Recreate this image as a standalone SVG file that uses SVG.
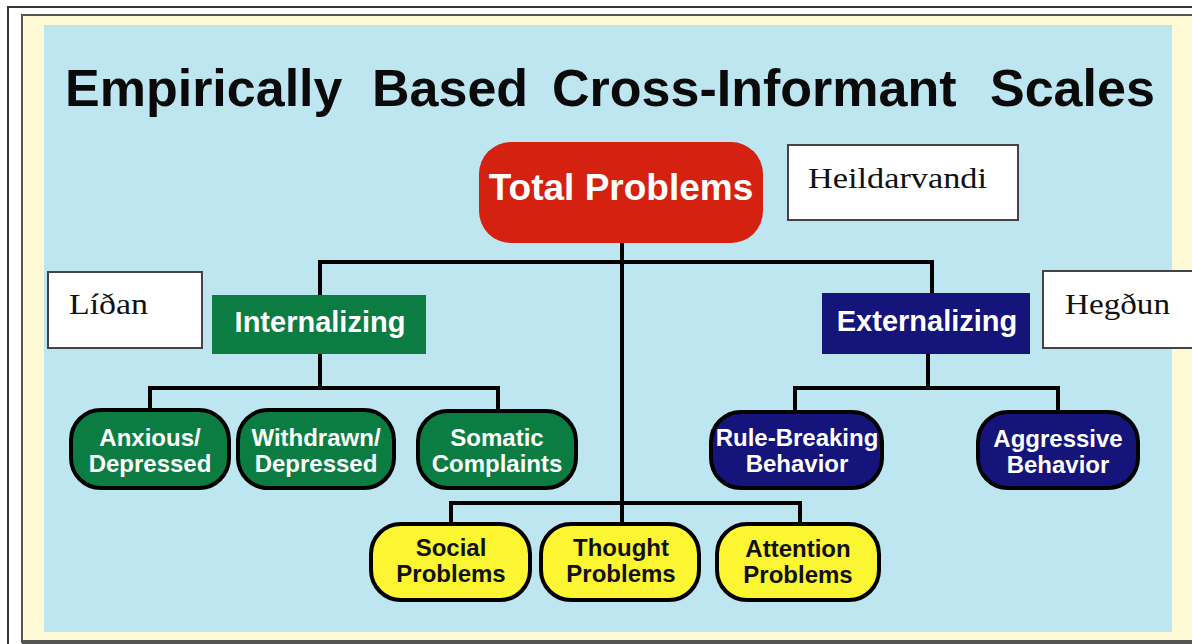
<svg xmlns="http://www.w3.org/2000/svg" width="1192" height="644" viewBox="0 0 1192 644">
  <style>
    .frame { fill: none; stroke: #333; stroke-width: 2; }
    .title { font-family: "Liberation Sans", Arial, sans-serif; font-weight: bold; font-size: 52px; fill: #0a0a0a; }
    .head { font-family: "Liberation Sans", Arial, sans-serif; font-weight: bold; fill: #ffffff; text-anchor: middle; }
    .pill { font-family: "Liberation Sans", Arial, sans-serif; font-weight: bold; font-size: 24px; text-anchor: middle; }
    .note-box { fill: #ffffff; stroke: #444; stroke-width: 2; }
    .note { font-family: "Liberation Serif", "Times New Roman", serif; font-size: 30px; fill: #111; }
    .pill-green { fill: #0b7d43; stroke: #000; stroke-width: 4; }
    .pill-navy { fill: #14147a; stroke: #000; stroke-width: 4; }
    .pill-yellow { fill: #fbf532; stroke: #000; stroke-width: 4; }
    .link { fill: none; stroke: #000; stroke-width: 4; }
  </style>

  <!-- page frame and slide background -->
  <rect x="0" y="0" width="1192" height="644" fill="#ffffff"/>
  <path class="frame" d="M8 644 V7 H1192"/>
  <rect x="22" y="15" width="1172" height="627" fill="#fffad6" stroke="#555" stroke-width="2"/>
  <rect x="44" y="25" width="1128" height="607" fill="#bde6f1"/>
  <line x1="22" y1="642" x2="1192" y2="642" stroke="#555" stroke-width="4"/>

  <text class="title" y="106"><tspan x="65">Empirically</tspan><tspan x="372">Based</tspan><tspan x="552">Cross-Informant</tspan><tspan x="990">Scales</tspan></text>

  <!-- connectors -->
  <g id="connectors">
    <path class="link" d="M622 240 V505"/>
    <path class="link" d="M320 298 V262 H932 V296"/>
    <path class="link" d="M320 352 V388"/>
    <path class="link" d="M150 411 V388 H498 V411"/>
    <path class="link" d="M928 352 V388"/>
    <path class="link" d="M795 412 V388 H1058 V412"/>
    <path class="link" d="M451 524 V503 H800 V524"/>
    <path class="link" d="M622 503 V524"/>
  </g>

  <g id="total-problems">
    <rect x="479" y="142" width="284" height="101" rx="32" fill="#d52110"/>
    <text class="head" x="621" y="200" font-size="37">Total Problems</text>
  </g>

  <g id="note-heildarvandi">
    <rect class="note-box" x="788" y="145" width="230" height="75"/>
    <text class="note" x="808" y="188" textLength="179" lengthAdjust="spacingAndGlyphs">Heildarvandi</text>
  </g>

  <g id="internalizing">
    <rect x="212" y="295" width="214" height="59" fill="#0b7d43"/>
    <text class="head" x="320" y="332" font-size="29">Internalizing</text>
  </g>

  <g id="note-lidan">
    <rect class="note-box" x="48" y="272" width="154" height="76"/>
    <text class="note" x="69" y="314" textLength="79" lengthAdjust="spacingAndGlyphs">Líðan</text>
  </g>

  <g id="externalizing">
    <rect x="822" y="293" width="208" height="61" fill="#14147a"/>
    <text class="head" x="927" y="331" font-size="29">Externalizing</text>
  </g>

  <g id="note-hegdun">
    <rect class="note-box" x="1043" y="271" width="160" height="77"/>
    <text class="note" x="1065" y="314" textLength="105" lengthAdjust="spacingAndGlyphs">Hegðun</text>
  </g>

  <g id="anxious-depressed">
    <rect class="pill-green" x="71" y="410" width="158" height="78" rx="30"/>
    <text class="pill" x="150" y="446" fill="#fff">Anxious/</text>
    <text class="pill" x="150" y="472" fill="#fff">Depressed</text>
  </g>

  <g id="withdrawn-depressed">
    <rect class="pill-green" x="238" y="410" width="156" height="78" rx="30"/>
    <text class="pill" x="316" y="446" fill="#fff">Withdrawn/</text>
    <text class="pill" x="316" y="472" fill="#fff">Depressed</text>
  </g>

  <g id="somatic-complaints">
    <rect class="pill-green" x="418" y="411" width="158" height="77" rx="30"/>
    <text class="pill" x="497" y="446" fill="#fff">Somatic</text>
    <text class="pill" x="497" y="472" fill="#fff">Complaints</text>
  </g>

  <g id="rule-breaking">
    <rect class="pill-navy" x="711" y="412" width="171" height="76" rx="30"/>
    <text class="pill" x="797" y="446" fill="#fff">Rule-Breaking</text>
    <text class="pill" x="797" y="472" fill="#fff">Behavior</text>
  </g>

  <g id="aggressive">
    <rect class="pill-navy" x="978" y="412" width="160" height="76" rx="30"/>
    <text class="pill" x="1058" y="447" fill="#fff">Aggressive</text>
    <text class="pill" x="1058" y="473" fill="#fff">Behavior</text>
  </g>

  <g id="social-problems">
    <rect class="pill-yellow" x="371" y="524" width="159" height="76" rx="30"/>
    <text class="pill" x="451" y="556" fill="#111">Social</text>
    <text class="pill" x="451" y="582" fill="#111">Problems</text>
  </g>

  <g id="thought-problems">
    <rect class="pill-yellow" x="541" y="524" width="158" height="76" rx="30"/>
    <text class="pill" x="621" y="556" fill="#111">Thought</text>
    <text class="pill" x="621" y="582" fill="#111">Problems</text>
  </g>

  <g id="attention-problems">
    <rect class="pill-yellow" x="717" y="524" width="162" height="76" rx="30"/>
    <text class="pill" x="798" y="557" fill="#111">Attention</text>
    <text class="pill" x="798" y="583" fill="#111">Problems</text>
  </g>
</svg>
